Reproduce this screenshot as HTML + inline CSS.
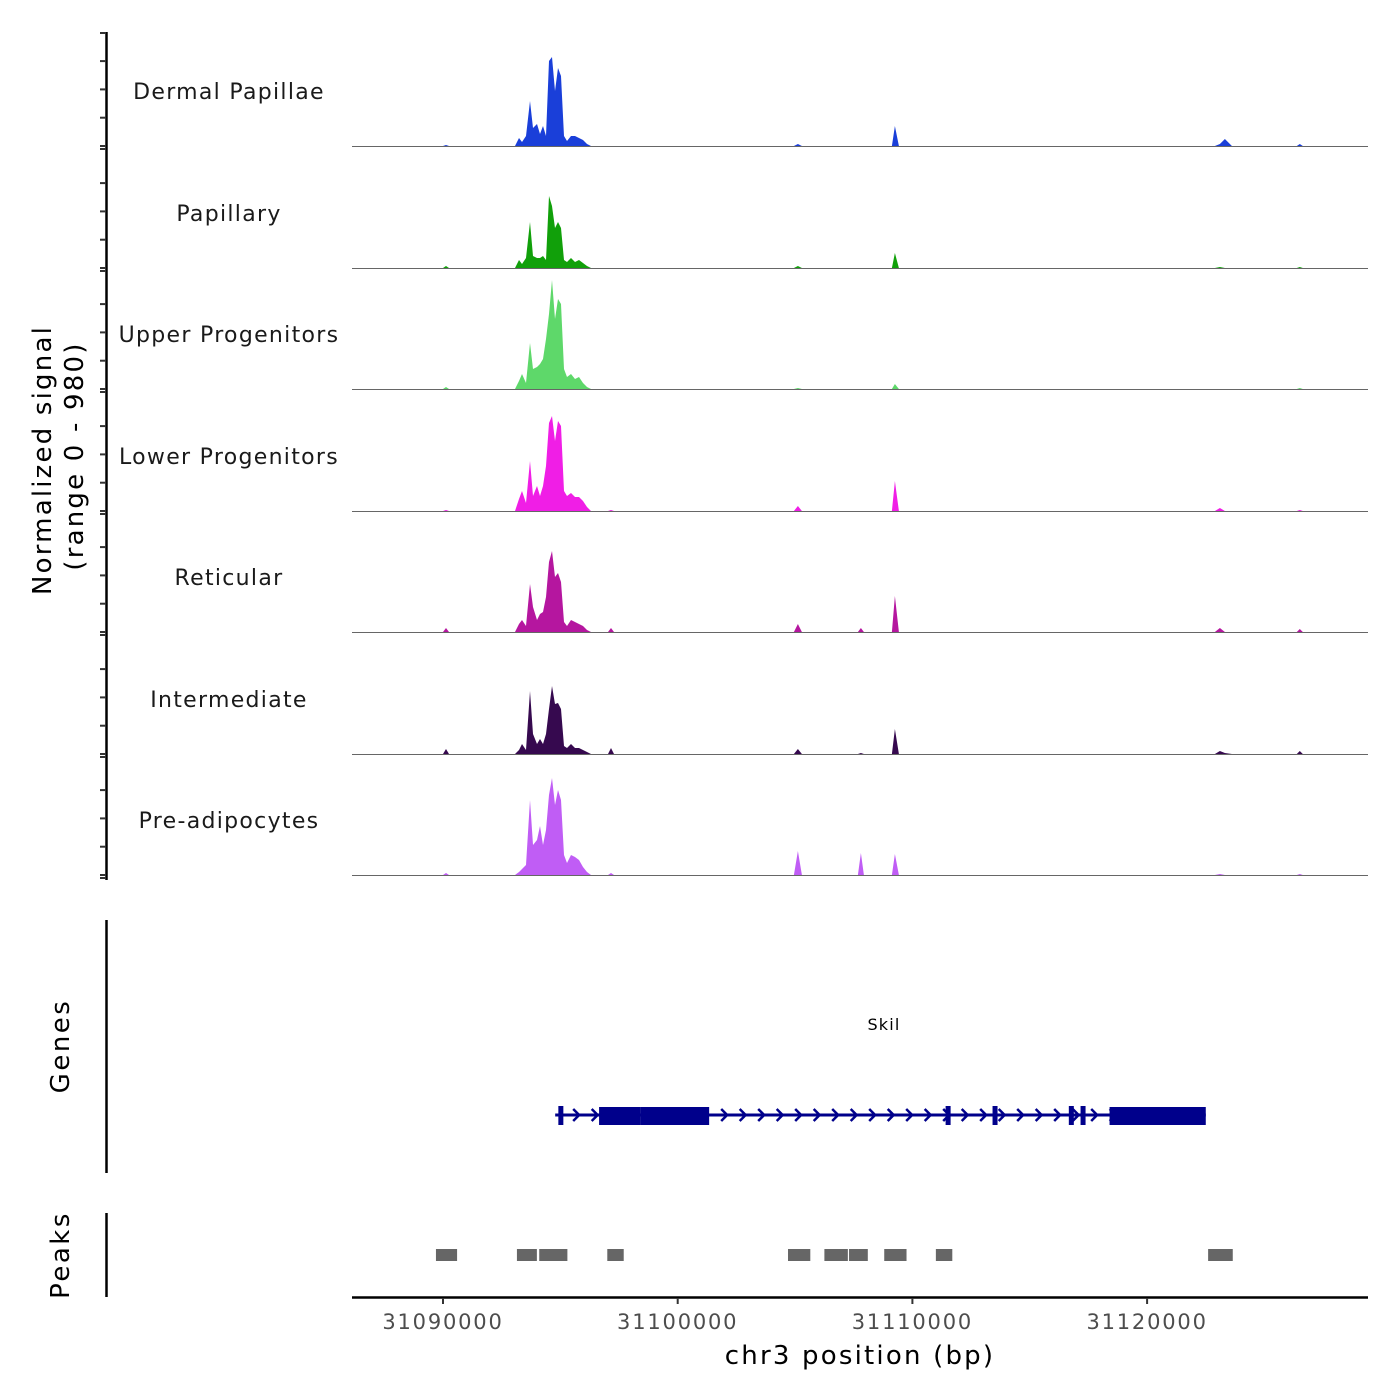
<!DOCTYPE html>
<html><head><meta charset="utf-8">
<style>
html,body{margin:0;padding:0;background:#fff;}
svg{display:block;font-family:"DejaVu Sans","Liberation Sans",sans-serif;}
</style></head>
<body>
<svg id="chart" width="1400" height="1400" viewBox="0 0 1400 1400" xmlns="http://www.w3.org/2000/svg">
<g id="tracks"></g>
<g id="axes"></g>
<g id="genes"></g>
<g id="peaks"></g>
<text transform="translate(51,460) rotate(-90)" text-anchor="middle" font-size="26" letter-spacing="2.2" fill="#000">Normalized signal</text>
<text transform="translate(83,456) rotate(-90)" text-anchor="middle" font-size="26" letter-spacing="2.2" fill="#000">(range 0 - 980)</text>
<text transform="translate(69,1046) rotate(-90)" text-anchor="middle" font-size="26" letter-spacing="2.5" fill="#000">Genes</text>
<text transform="translate(69,1255) rotate(-90)" text-anchor="middle" font-size="26" letter-spacing="2.5" fill="#000">Peaks</text>
<text x="860" y="1364" text-anchor="middle" font-size="26" letter-spacing="2.2" fill="#000">chr3 position (bp)</text>
</svg>
<script>
const NS="http://www.w3.org/2000/svg";
// ---- data ----
const positions=[31086100,31090000,31090128,31090256,
31093067,31093238,31093365,31093536,31093706,31093834,31094004,31094132,31094260,31094388,31094516,31094643,31094771,31094899,31095027,31095154,31095282,31095453,31095623,31095794,31095964,31096134,31096305,
31097029,31097157,31097285,
31104953,31105123,31105293,
31107679,31107807,31107934,
31109127,31109255,31109426,
31122887,31123100,31123313,31123611,
31126380,31126508,31126636,
31129405];
const trackNames=["Dermal Papillae","Papillary","Upper Progenitors","Lower Progenitors","Reticular","Intermediate","Pre-adipocytes"];
const trackColors=["#1a3fd9","#11a00a","#5ed86a","#f01ee6","#b5169f","#36094f","#c05df5"];
const sigDermal=[0,0,1,0, 0,8,4,10,45,18,22,12,20,10,85,89,55,78,70,10,5,10,10,8,6,2,0, 0,0,0, 0,2,0, 0,0,0, 0,20,0, 0,2,7,0, 0,2,0, 0];
const sigPapillary=[0,0,2,0, 0,8,4,10,46,12,10,10,12,8,72,62,40,46,40,8,6,10,6,8,5,2,0, 0,0,0, 0,2,0, 0,0,0, 0,15,0, 0,1,0,0, 0,1,0, 0];
const sigUpper=[0,0,2,0, 0,8,15,6,46,20,22,25,30,50,75,109,70,90,85,20,12,15,10,12,6,2,0, 0,0,0, 0,1,0, 0,0,0, 0,5,0, 0,0,0,0, 0,1,0, 0];
const sigLower=[0,0,1,0, 0,12,20,8,50,15,25,15,25,45,88,95,70,90,85,20,15,18,14,14,10,4,0, 0,1,0, 0,5,0, 0,0,0, 0,30,0, 0,3,0,0, 0,1,0, 0];
const sigReticular=[0,0,4,0, 0,8,12,6,48,25,12,18,20,35,70,81,55,59,50,10,6,12,10,8,6,2,0, 0,4,0, 0,8,0, 0,4,0, 0,36,0, 0,4,0,0, 0,3,0, 0];
const sigIntermediate=[0,0,5,0, 0,4,10,4,63,20,10,15,10,20,45,68,50,51,45,8,6,10,6,6,4,2,0, 0,6,0, 0,5,0, 0,1,0, 0,25,0, 0,3,1,0, 0,3,0, 0];
const sigPreadipo=[0,0,2,0, 0,3,6,10,75,30,35,49,30,45,80,97,70,85,75,20,12,20,18,15,8,3,0, 0,2,0, 0,24,0, 0,22,0, 0,21,0, 0,1,0,0, 0,1,0, 0];
const trackSignals=[sigDermal,sigPapillary,sigUpper,sigLower,sigReticular,sigIntermediate,sigPreadipo];
const xTicks=[31090000,31100000,31110000,31120000];
const geneStart=31094780, geneEnd=31122500;
const geneExonStarts=[31096650,31098420,31118400];
const geneExonEnds=[31098420,31101340,31122500];
const geneSmallExons=[31095000,31111500,31113500,31116750,31117250];
const peakStarts=[31089700,31093150,31094100,31097000,31104700,31106250,31107300,31108800,31111000,31122600];
const peakEnds=[31090600,31094000,31095300,31097700,31105650,31107250,31108100,31109750,31111700,31123650];
// ---- scales ----
const x0=443, xbp0=31090000, pxPerBp=23.47/1000;
function xs(bp){return x0+(bp-xbp0)*pxPerBp;}
const baselines=[146,268,389,511,632,754,875];
const pxPerUnit=1.0;
function ys(i,v){return baselines[i]-v*pxPerUnit;}
function mk(tag,attrs,parent){const e=document.createElementNS(NS,tag);for(const k in attrs)e.setAttribute(k,attrs[k]);parent.appendChild(e);return e;}
const gT=document.getElementById('tracks');
trackSignals.forEach((sig,i)=>{
  let d="M"+xs(positions[0])+","+baselines[i];
  positions.forEach((p,j)=>{d+=" L"+xs(p).toFixed(1)+","+ys(i,sig[j]).toFixed(1);});
  d+=" L"+xs(positions[positions.length-1])+","+baselines[i]+" Z";
  const a=mk('path',{d:d,fill:trackColors[i]},gT);
  
  
  const l=mk('line',{x1:352,x2:1368,y1:baselines[i]+0.5,y2:baselines[i]+0.5,stroke:'#666','stroke-width':1},gT);
  
  
  const t=mk('text',{x:229,y:baselines[i]-47,'text-anchor':'middle','font-size':22,'letter-spacing':1.3,fill:'#1a1a1a'},gT);
  t.textContent=trackNames[i];
  
  
});
const gA=document.getElementById('axes');
[[32,880],[920,1173],[1213,1297]].forEach(r=>{
  const l=mk('line',{x1:106.5,x2:106.5,y1:r[0],y2:r[1],stroke:'#000','stroke-width':2.5},gA);
  
  
});
baselines.forEach(b=>{
  [b+3,b,b-28.3,b-56.6,b-84.9].forEach(y=>{
    if(y<32)return;
    const t=mk('line',{x1:100,x2:106,y1:y,y2:y,stroke:'#333','stroke-width':2},gA);
    
    
  });
});
{const t=mk('line',{x1:100,x2:106,y1:33,y2:33,stroke:'#333','stroke-width':2},gA);

}
const ax=mk('line',{x1:352,x2:1368,y1:1297.5,y2:1297.5,stroke:'#000','stroke-width':2.5},gA);


xTicks.forEach(v=>{
  const t=mk('line',{x1:xs(v),x2:xs(v),y1:1298,y2:1304,stroke:'#333','stroke-width':2},gA);
  
  
  const lb=mk('text',{x:xs(v),y:1329,'text-anchor':'middle','font-size':21,'letter-spacing':1.8,fill:'#4d4d4d'},gA);
  lb.textContent=String(v);
  
  
});
// genes
const gG=document.getElementById('genes');const gc='#00008b';
const gl=mk('line',{x1:xs(geneStart),x2:xs(geneEnd),y1:1115,y2:1115,stroke:gc,'stroke-width':3},gG);


for(let x=xs(geneStart)+22;x<xs(geneEnd)-8;x+=18.5){
  const ar=mk('path',{d:`M${x-4},${1109} L${x+2},${1115} L${x-4},${1121}`,fill:'none',stroke:gc,'stroke-width':2.5},gG);
  
  
}
geneExonStarts.forEach((s,i)=>{
  const r=mk('rect',{x:xs(s),y:1107,width:xs(geneExonEnds[i])-xs(s),height:18,fill:gc},gG);
  
  
});
geneSmallExons.forEach(s=>{
  const r=mk('rect',{x:xs(s)-2,y:1106,width:5,height:19,fill:gc},gG);
  
  
});
const gn=mk('text',{x:884,y:1030,'text-anchor':'middle','font-size':16,'letter-spacing':1.2,fill:'#000'},gG);
gn.textContent='Skil';


// peaks
const gP=document.getElementById('peaks');
peakStarts.forEach((s,i)=>{
  const r=mk('rect',{x:xs(s),y:1249,width:xs(peakEnds[i])-xs(s),height:12,fill:'#666'},gP);
  
  
});
</script>
</body></html>
